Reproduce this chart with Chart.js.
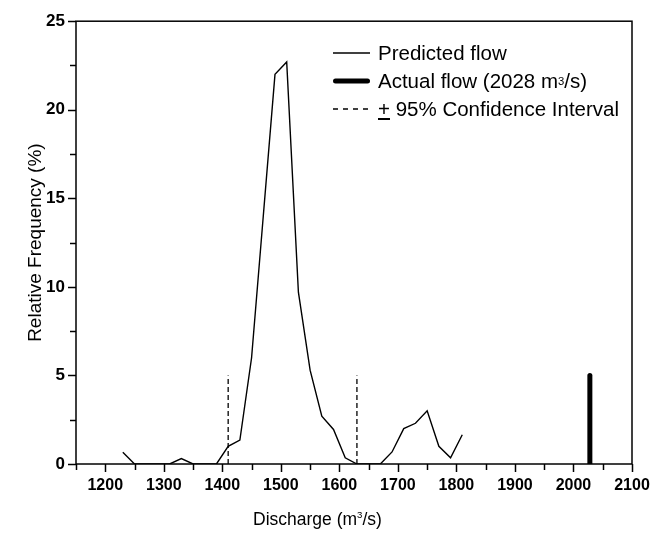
<!DOCTYPE html>
<html>
<head>
<meta charset="utf-8">
<script src="https://cdn.jsdelivr.net/npm/chart.js@4.4.0/dist/chart.umd.min.js"></script>
<style>
  html, body { margin: 0; padding: 0; background: #fff; }
  #wrap { position: relative; width: 662px; height: 535px; font-family: "Liberation Sans", Arial, sans-serif; color: #000; }
  #chart { position: absolute; left: 0; top: 0; }
  .legend { position: absolute; left: 333px; top: 39px; font-size: 20.5px; }
  .legend-row { height: 28px; display: flex; align-items: center; white-space: nowrap; }
  .legend-row svg { width: 37px; height: 8px; margin-right: 8px; flex: none; }
  sup { font-size: 0.55em; vertical-align: 0.7em; line-height: 0; }
  .xtitle { position: absolute; left: 253px; top: 509px; font-size: 17.5px; white-space: nowrap; }
</style>
</head>
<body>
<div id="wrap">
  <canvas id="chart" width="662" height="535"></canvas>
  <div class="legend">
    <div class="legend-row"><svg><line x1="0" y1="4" x2="37" y2="4" stroke="#000" stroke-width="1.3"/></svg>Predicted flow</div>
    <div class="legend-row"><svg><line x1="2.5" y1="4" x2="34.5" y2="4" stroke="#000" stroke-width="5" stroke-linecap="round"/></svg>Actual flow (2028 m<sup>3</sup>/s)</div>
    <div class="legend-row"><svg><line x1="0" y1="4" x2="37" y2="4" stroke="#000" stroke-width="1.3" stroke-dasharray="5,5"/></svg><u>+</u>&nbsp;95% Confidence Interval</div>
  </div>
  <div class="xtitle">Discharge (m<sup>3</sup>/s)</div>
</div>
<script>
// ─── data ───
const flowX    = [1230, 1250, 1270, 1290, 1310, 1330, 1350, 1370, 1390, 1410,
                  1430, 1450, 1470, 1490, 1510, 1530, 1550, 1570, 1590, 1610,
                  1630, 1650, 1670, 1690, 1710, 1730, 1750, 1770, 1790, 1810];
const flowFreq = [0.66, 0, 0, 0, 0, 0.31, 0, 0, 0, 1.0,
                  1.35, 6.0, 14.0, 22.0, 22.7, 9.7, 5.3, 2.7, 1.95, 0.35,
                  0, 0, 0, 0.68, 2.0, 2.3, 3.0, 1.0, 0.35, 1.65];
const actualFlow = 2028;
const ciBounds   = [1410, 1630];
const markerTop  = 5;       // height of the actual-flow and CI markers (%)
const xTicks = [1150, 1200, 1250, 1300, 1350, 1400, 1450, 1500, 1550, 1600, 1650,
                1700, 1750, 1800, 1850, 1900, 1950, 2000, 2050, 2100];
const yTicks = [0, 2.5, 5, 7.5, 10, 12.5, 15, 17.5, 20, 22.5, 25];

const predicted = flowX.map((x, i) => ({ x, y: flowFreq[i] }));
const vLine = x => [{ x, y: 0 }, { x, y: markerTop }];

// frame + outward ticks (major longer than minor)
const frameTicks = {
  id: 'frameTicks',
  afterDraw(chart) {
    const { ctx, chartArea: a, scales: { x, y } } = chart;
    ctx.save();
    ctx.strokeStyle = '#000';
    ctx.lineWidth = 1.5;
    ctx.strokeRect(a.left, a.top, a.right - a.left, a.bottom - a.top);
    xTicks.forEach(v => {
      const px = Math.round(x.getPixelForValue(v)) + 0.5;
      const len = v % 100 === 0 ? 8 : 6;
      ctx.beginPath(); ctx.moveTo(px, a.bottom); ctx.lineTo(px, a.bottom + len); ctx.stroke();
    });
    yTicks.forEach(v => {
      const py = Math.round(y.getPixelForValue(v)) + 0.5;
      const len = v % 5 === 0 ? 8 : 6;
      ctx.beginPath(); ctx.moveTo(a.left, py); ctx.lineTo(a.left - len, py); ctx.stroke();
    });
    ctx.restore();
  }
};

new Chart(document.getElementById('chart'), {
  type: 'line',
  data: {
    datasets: [
      { label: 'Predicted flow', data: predicted, borderColor: '#000', borderWidth: 1.4, pointRadius: 0, tension: 0 },
      { label: 'Actual flow', data: vLine(actualFlow), borderColor: '#000', borderWidth: 5, borderCapStyle: 'round', pointRadius: 0 },
      { label: 'CI low', data: vLine(ciBounds[0]), borderColor: '#000', borderWidth: 1.3, borderDash: [5, 3], pointRadius: 0 },
      { label: 'CI high', data: vLine(ciBounds[1]), borderColor: '#000', borderWidth: 1.3, borderDash: [5, 3], pointRadius: 0 },
    ]
  },
  options: {
    responsive: false, animation: false,
    layout: { padding: { top: 12, right: 30, left: 0, bottom: 0 } },
    plugins: { legend: { display: false }, tooltip: { enabled: false } },
    scales: {
      x: {
        type: 'linear', min: 1150, max: 2100,
        afterBuildTicks: s => { s.ticks = xTicks.map(v => ({ value: v })); },
        afterFit: s => { s.height = 71; },
        grid: { display: false, drawTicks: false },
        border: { display: false },
        ticks: {
          autoSkip: false, maxRotation: 0, padding: 12, color: '#000',
          font: { family: 'Liberation Sans', size: 16, weight: 'bold' },
          callback: v => v % 100 === 0 ? v : ''
        }
      },
      y: {
        min: 0, max: 25,
        afterBuildTicks: s => { s.ticks = yTicks.map(v => ({ value: v })); },
        afterFit: s => { s.width = 76; },
        grid: { display: false, drawTicks: false },
        border: { display: false },
        ticks: {
          autoSkip: false, padding: 11, color: '#000',
          font: { family: 'Liberation Sans', size: 17, weight: 'bold' },
          callback: v => v % 5 === 0 ? v : ''
        },
        title: {
          display: true, text: 'Relative Frequency (%)', color: '#000',
          font: { family: 'Liberation Sans', size: 19 },
          padding: { top: 24, bottom: 0 }
        }
      }
    }
  },
  plugins: [frameTicks]
});
</script>
</body>
</html>
